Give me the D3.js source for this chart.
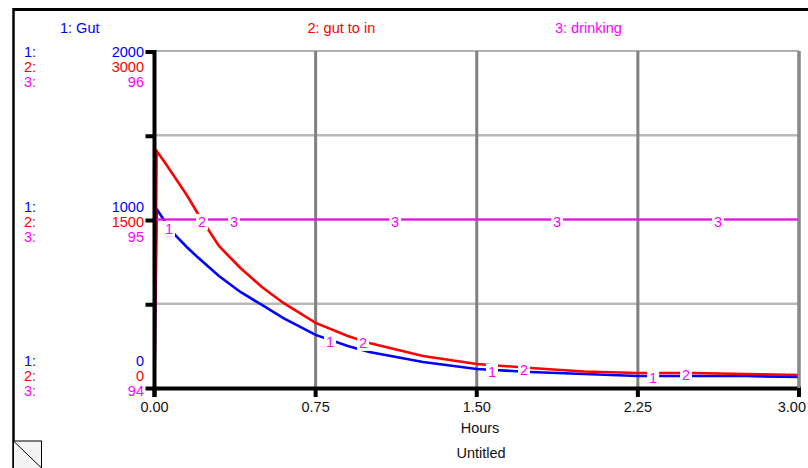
<!DOCTYPE html>
<html>
<head>
<meta charset="utf-8">
<script src="https://cdn.jsdelivr.net/npm/d3@7"></script>
<style>
  body { margin: 0; background: #fff; }
  svg { display: block; font-family: "Liberation Sans", Arial, sans-serif; }
</style>
</head>
<body>
<div id="chart"></div>
<script>
// Datos (Hours vs valores de cada serie)
const horas = [0, 0.01, 0.05, 0.1, 0.15, 0.2, 0.3, 0.4, 0.5, 0.6, 0.75, 0.9, 1.0, 1.25, 1.5, 1.75, 2.0, 2.25, 2.5, 2.75, 3.0];
const gut = [0, 1062, 985, 902, 837, 777, 665, 570, 493, 415, 315, 249, 214, 154, 113, 95, 83, 71, 71, 71, 65];
const gutToIn = [0, 2110, 2003, 1861, 1718, 1558, 1264, 1068, 899, 757, 579, 463, 401, 285, 214, 178, 147, 134, 134, 125, 116];
const drinking = [95, 95, 95, 95, 95, 95, 95, 95, 95, 95, 95, 95, 95, 95, 95, 95, 95, 95, 95, 95, 95];

const nombres = ["1: Gut", "2: gut to in", "3: drinking"];
const colores = ["#0000ff", "#ff0000", "#ff00ff"];
const dominios = [[0, 2000], [0, 3000], [94, 96]];
const etiquetasY = [["2000", "3000", "96"], ["1000", "1500", "95"], ["0", "0", "94"]];
const ticksX = [0, 0.75, 1.5, 2.25, 3.0];
// Horas en las que se dibujan los números sobre cada línea
const marcas = [
  [0.0675, 0.817, 1.571, 2.321],
  [0.221, 0.971, 1.72, 2.474],
  [0.37, 1.12, 1.874, 2.623]
];

const width = 808;
const height = 468;
const izq = 154.5, der = 799, arriba = 51, abajo = 388;

const svg = d3.select("#chart").append("svg")
  .attr("width", width)
  .attr("height", height);

const x = d3.scaleLinear().domain([0, 3]).range([izq, der]);
const escalasY = dominios.map(d => d3.scaleLinear().domain(d).range([abajo, arriba]));
const series = [gut, gutToIn, drinking];

// Marco exterior
svg.append("line").attr("x1", 13).attr("x2", width).attr("y1", 9.5).attr("y2", 9.5)
  .attr("stroke", "#000").attr("stroke-width", 3);
svg.append("line").attr("x1", 13.5).attr("x2", 13.5).attr("y1", 8).attr("y2", height)
  .attr("stroke", "#000").attr("stroke-width", 2.5);

// Icono de página en la esquina
svg.append("rect").attr("x", 13.5).attr("y", 441).attr("width", 28).attr("height", 30)
  .attr("fill", "#f4f4f4").attr("stroke", "#000").attr("stroke-width", 1);
svg.append("line").attr("x1", 13.5).attr("y1", 441).attr("x2", 41.5).attr("y2", 468)
  .attr("stroke", "#000").attr("stroke-width", 1);

// Leyenda superior
svg.selectAll(".leyenda").data(nombres).join("text")
  .attr("x", (d, i) => 60 + i * 247.5)
  .attr("y", 33)
  .attr("fill", (d, i) => colores[i])
  .attr("font-size", 14.5)
  .text(d => d);

// Grilla horizontal
const yGrid = escalasY[0];
const nivelesGrid = [500, 1000, 1500];
svg.selectAll(".gridh").data(nivelesGrid).join("line")
  .attr("x1", izq).attr("x2", der)
  .attr("y1", d => yGrid(d)).attr("y2", d => yGrid(d))
  .attr("stroke", "#b8b8b8").attr("stroke-width", 2.5);
svg.append("line").attr("x1", izq).attr("x2", der).attr("y1", arriba).attr("y2", arriba)
  .attr("stroke", "#b0b0b0").attr("stroke-width", 2);

// Grilla vertical
svg.selectAll(".gridv").data(ticksX.slice(1)).join("line")
  .attr("x1", d => x(d)).attr("x2", d => x(d))
  .attr("y1", arriba).attr("y2", abajo)
  .attr("stroke", "#808080").attr("stroke-width", 3);

// Líneas de las series
series.forEach((valores, i) => {
  const linea = d3.line()
    .x((d, j) => x(horas[j]))
    .y(d => escalasY[i](d));
  svg.append("path")
    .datum(valores)
    .attr("d", linea)
    .attr("fill", "none")
    .attr("stroke", colores[i])
    .attr("stroke-width", i === 2 ? 2 : 2.6);
});

// Interpolación para ubicar los números sobre cada línea
const bis = d3.bisector(d => d).right;
const valorEn = (valores, t) => {
  const j = Math.min(Math.max(bis(horas, t), 1), horas.length - 1);
  const t0 = horas[j - 1], t1 = horas[j];
  return valores[j - 1] + (valores[j] - valores[j - 1]) * (t - t0) / (t1 - t0);
};

const puntos = [];
marcas.forEach((ts, i) => ts.forEach(t => {
  puntos.push({ serie: i, x: x(t), y: escalasY[i](valorEn(series[i], t)) + 2 });
}));

svg.selectAll(".caja").data(puntos).join("rect")
  .attr("x", d => d.x - 6).attr("y", d => d.y - 8)
  .attr("width", 12).attr("height", 16)
  .attr("fill", "#fff");
svg.selectAll(".marca").data(puntos).join("text")
  .attr("x", d => d.x).attr("y", d => d.y)
  .attr("text-anchor", "middle")
  .attr("dominant-baseline", "central")
  .attr("fill", "#ff00ff")
  .attr("font-size", 14.5)
  .text(d => d.serie + 1);

// Ejes
svg.append("line").attr("x1", izq).attr("x2", izq).attr("y1", arriba - 1).attr("y2", abajo + 9)
  .attr("stroke", "#000").attr("stroke-width", 4);
svg.append("line").attr("x1", izq - 2).attr("x2", der + 2).attr("y1", abajo + 0.5).attr("y2", abajo + 0.5)
  .attr("stroke", "#000").attr("stroke-width", 4);
svg.append("line").attr("x1", der).attr("x2", der).attr("y1", arriba).attr("y2", abajo)
  .attr("stroke", "#888").attr("stroke-width", 3);

// Ticks eje Y
const nivelesY = [2000, 1500, 1000, 500, 0];
svg.selectAll(".ticky").data(nivelesY).join("line")
  .attr("x1", izq - 9).attr("x2", izq)
  .attr("y1", d => yGrid(d) + (d === 0 ? 0.5 : 1)).attr("y2", d => yGrid(d) + (d === 0 ? 0.5 : 1))
  .attr("stroke", "#000").attr("stroke-width", 4);

// Ticks eje X
svg.selectAll(".tickx").data(ticksX).join("line")
  .attr("x1", d => x(d)).attr("x2", d => x(d))
  .attr("y1", abajo).attr("y2", abajo + 9)
  .attr("stroke", "#000").attr("stroke-width", 4);
// La última etiqueta se ajusta al borde derecho de la ventana
svg.selectAll(".tickxlab").data(ticksX).join("text")
  .attr("x", (d, i) => i === ticksX.length - 1 ? width - 2 : x(d))
  .attr("y", 412)
  .attr("text-anchor", (d, i) => i === ticksX.length - 1 ? "end" : "middle")
  .attr("font-size", 14.5)
  .attr("fill", "#111")
  .text(d => d3.format(".2f")(d));

svg.append("text").attr("x", 480).attr("y", 433).attr("text-anchor", "middle")
  .attr("font-size", 14.5).attr("fill", "#111").text("Hours");
svg.append("text").attr("x", 481).attr("y", 458).attr("text-anchor", "middle")
  .attr("font-size", 14.5).attr("fill", "#111").text("Untitled");

// Etiquetas de escala a la izquierda (arriba, medio, abajo)
const filasBase = [56.5, 211.5, 365.5];
etiquetasY.forEach((grupo, g) => {
  grupo.forEach((txt, i) => {
    const yy = filasBase[g] + i * 15;
    svg.append("text").attr("x", 24).attr("y", yy)
      .attr("fill", colores[i]).attr("font-size", 14.5).text((i + 1) + ":");
    svg.append("text").attr("x", 144).attr("y", yy).attr("text-anchor", "end")
      .attr("fill", colores[i]).attr("font-size", 14.5).text(txt);
  });
});
</script>
</body>
</html>
